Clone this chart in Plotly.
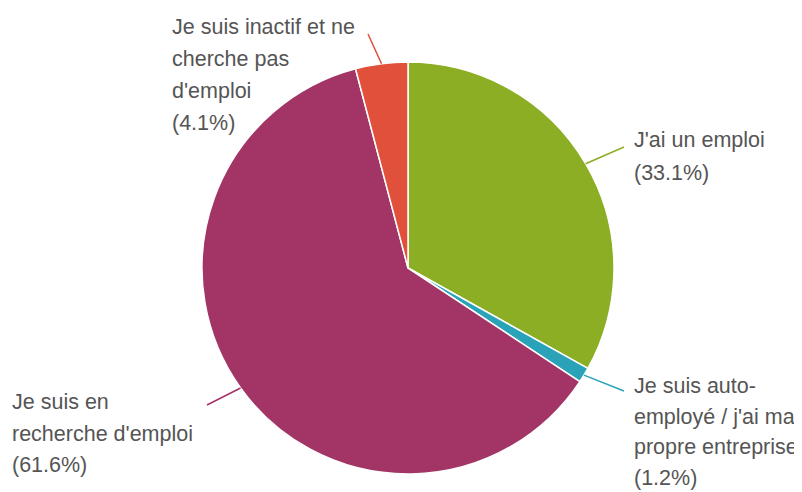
import math
import plotly.graph_objects as go

# ---- data ----
labels = ["J'ai un emploi", "Je suis auto-employé / j'ai ma propre entreprise",
          "Je suis en recherche d'emploi", "Je suis inactif et ne cherche pas d'emploi"]
values = [33.1, 1.2, 61.6, 4.1]
label_lines = [
    ["J'ai un emploi"],
    ["Je suis auto-", "employé / j'ai ma", "propre entreprise"],
    ["Je suis en", "recherche d'emploi"],
    ["Je suis inactif et ne", "cherche pas", "d'emploi"],
]
colors = ["#8bae24", "#2aa3b8", "#a23566", "#e0503a"]

# ---- layout / style ----
W, H = 802, 492
OFF = 8                              # page body margin offset
CX, CY, R = 408 - OFF, 268 - OFF, 206   # pie centre and radius in px
# text anchor (left x, first line centre y), line height, leader end point (window px)
label_pos = [(632, 140), (632, 386), (10, 402), (170, 27)]
line_h = [33, 30.5, 31.5, 32]
leader_end = [(624, 147), (624, 391), (207, 405), (368, 34)]
FONT = dict(family="Liberation Sans, Arial, sans-serif", size=21.5, color="#555555")

def px(x, y):
    return x / W, 1 - y / H

fig = go.Figure(go.Pie(
    labels=labels, values=values, sort=False, direction="clockwise", rotation=0,
    marker=dict(colors=colors, line=dict(color="white", width=1.5)),
    textinfo="none", hoverinfo="label+percent", showlegend=False,
    domain=dict(x=[(CX - R) / W, (CX + R) / W], y=[1 - (CY + R) / H, 1 - (CY - R) / H]),
))

total = sum(values)
cum = 0.0
annotations, shapes = [], []
for i, v in enumerate(values):
    mid = (cum + v / 2) / total * 2 * math.pi
    cum += v
    sx = CX + R * math.sin(mid)
    sy = CY - R * math.cos(mid)
    ex, ey = leader_end[i][0] - OFF, leader_end[i][1] - OFF
    x0, y0 = px(sx, sy)
    x1, y1 = px(ex, ey)
    shapes.append(dict(type="line", xref="paper", yref="paper", x0=x0, y0=y0, x1=x1, y1=y1,
                       line=dict(color=colors[i], width=1.5)))
    lines = label_lines[i] + ["(%.1f%%)" % (v / total * 100)]
    tx, ty = label_pos[i][0] - OFF, label_pos[i][1] - OFF
    for j, t in enumerate(lines):
        ax, ay = px(tx, ty + j * line_h[i])
        annotations.append(dict(text=t, x=ax, y=ay, xref="paper", yref="paper",
                                xanchor="left", yanchor="middle", showarrow=False, font=FONT))

fig.update_layout(
    width=W, height=H, margin=dict(l=0, r=0, t=0, b=0),
    paper_bgcolor="white", plot_bgcolor="white",
    annotations=annotations, shapes=shapes,
)
fig.write_html("out.html")
